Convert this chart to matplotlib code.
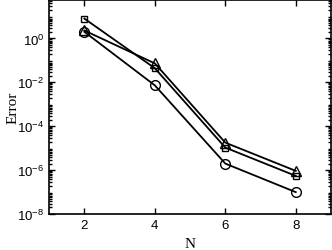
import matplotlib
matplotlib.use("Agg")
import matplotlib.pyplot as plt
from matplotlib.ticker import LogLocator, NullFormatter, FixedLocator

N = [2, 4, 6, 8]
err_square = [8.0, 0.044, 1.07e-5, 5.5e-7]
err_triangle = [2.3, 0.073, 1.8e-5, 9.3e-7]
err_circle = [2.0, 0.0073, 2.0e-6, 1.0e-7]
xticks = [2, 4, 6, 8]
yticks = [1e-8, 1e-6, 1e-4, 1e-2, 1e0]

plt.rcParams["font.family"] = ["Liberation Sans", "DejaVu Sans"]
plt.rcParams["mathtext.default"] = "regular"

fig = plt.figure(figsize=(3.32, 2.51), dpi=100)
ax = fig.add_axes([0.148, 0.143, 0.849, 0.853])

kw = dict(color="black", lw=1.3, markerfacecolor="none", markeredgecolor="black", markeredgewidth=1.0)
ax.semilogy(N, err_square, marker="s", ms=5, **kw)
ax.semilogy(N, err_triangle, marker="^", ms=7, **kw)
ax.semilogy(N, err_circle, marker="o", ms=7, **kw)

ax.set_xlim(1, 9)
ax.set_ylim(1e-8, 10**1.75)
ax.set_xticks(xticks)
ax.set_xticklabels([str(x) for x in xticks])
ax.yaxis.set_major_locator(FixedLocator(yticks))
ax.yaxis.set_minor_locator(LogLocator(base=10, subs=range(2, 10), numticks=40))
ax.yaxis.set_minor_formatter(NullFormatter())
ax.tick_params(which="both", direction="in", top=True, right=True, labelsize=9.5, width=1)
ax.tick_params(which="major", length=4)
ax.tick_params(which="minor", length=2)
for s in ax.spines.values():
    s.set_linewidth(1.2)

ax.set_xlabel("N", family="Liberation Serif", fontsize=11)
ax.set_ylabel("Error", family="Liberation Serif", fontsize=11)
ax.yaxis.set_label_coords(-0.105, 0.5)
ax.xaxis.set_label_coords(0.5, -0.108)

fig.savefig("out.png", dpi=100)
